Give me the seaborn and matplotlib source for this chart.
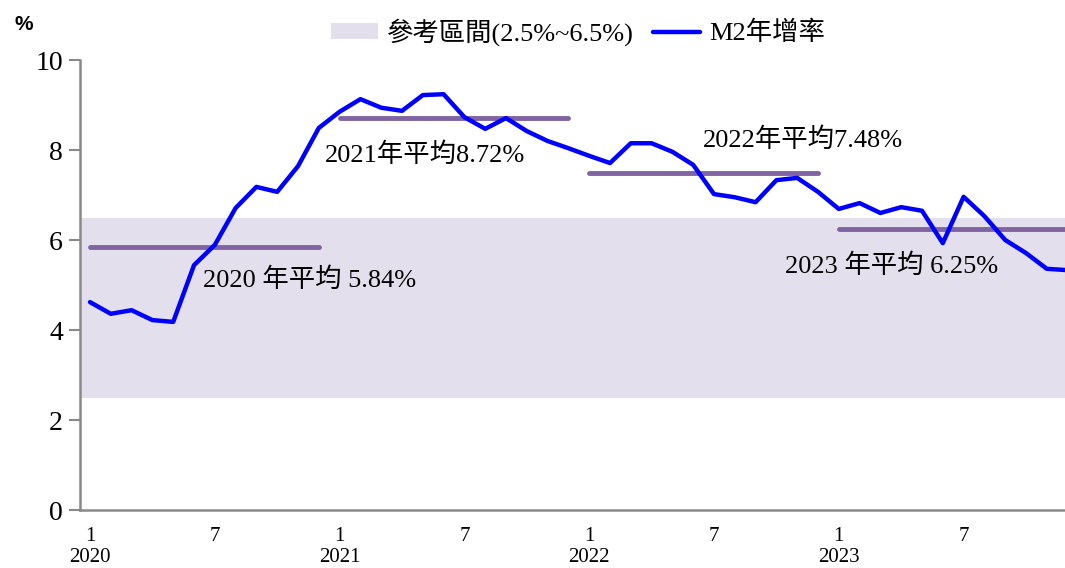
import numpy as np
import pandas as pd
import seaborn as sns
import matplotlib.pyplot as plt
from matplotlib.patches import Patch
from matplotlib.lines import Line2D

# Monthly M2 yoy growth, Jan 2020 - Dec 2023 (%)
years = [2020, 2021, 2022, 2023]
m2_2020 = [4.62, 4.36, 4.44, 4.22, 4.18, 5.44, 5.89, 6.71, 7.18, 7.07, 7.64, 8.49]
m2_2021 = [8.85, 9.13, 8.94, 8.87, 9.22, 9.24, 8.73, 8.47, 8.71, 8.42, 8.20, 8.04]
m2_2022 = [7.87, 7.71, 8.15, 8.15, 7.96, 7.67, 7.02, 6.95, 6.84, 7.33, 7.38, 7.07]
m2_2023 = [6.69, 6.82, 6.60, 6.73, 6.65, 5.93, 6.96, 6.53, 6.00, 5.71, 5.36, 5.33]
yearly_avg = [5.84, 8.72, 7.48, 6.25]
avg_labels = ["2020 年平均 5.84%", "2021年平均8.72%", "2022年平均7.48%", "2023 年平均 6.25%"]
band_low, band_high = 2.5, 6.5
band_label = "參考區間(2.5%~6.5%)"
line_label = "M2年增率"

m2 = m2_2020 + m2_2021 + m2_2022 + m2_2023
df = pd.DataFrame({"idx": np.arange(len(m2)), "m2": m2})

sns.set_theme(style="white")
plt.rcParams["font.family"] = ["Liberation Serif", "Noto Sans CJK TC", "DejaVu Sans"]
plt.rcParams["axes.unicode_minus"] = False
plt.rcParams["xtick.color"] = "black"
plt.rcParams["ytick.color"] = "black"
plt.rcParams["text.color"] = "black"

BLUE = "#0000FF"
PURPLE = "#8064A2"
BAND = "#E4DFEC"
GREY = "#898989"

fig = plt.figure(figsize=(10.65, 5.68), dpi=100)
ax = fig.add_axes([79.6 / 1065, 58 / 568, 998.4 / 1065, 450 / 568])

# reference band
ax.axhspan(band_low, band_high, color=BAND, lw=0, zorder=0)

# yearly averages
for k, avg in enumerate(yearly_avg):
    ax.hlines(avg, 12 * k, 12 * k + 11, color=PURPLE, lw=3.5, zorder=2,
              capstyle="round")

sns.lineplot(data=df, x="idx", y="m2", color=BLUE, lw=3.2, ax=ax,
             legend=False, zorder=3)

# average annotations
text_pos = [(5.43, 5.11), (11.3, 7.89), (29.47, 8.24), (33.4, 5.42)]
for (tx, ty), lab in zip(text_pos, avg_labels):
    ax.text(tx, ty, lab, fontsize=19, ha="left", va="center", color="black",
            zorder=4)

ax.set_xlim(-0.5, 47.5)
ax.set_ylim(0, 10)
ax.set_yticks([0, 2, 4, 6, 8, 10])
ax.set_yticklabels(["0", "2", "4", "6", "8", "10"], fontsize=20)

major = np.arange(0, 48, 6)
xlabels = []
for t in major:
    if t % 12 == 0:
        xlabels.append(f"1\n{years[t // 12]}")
    else:
        xlabels.append("7")
ax.set_xticks(major)
ax.set_xticklabels(xlabels, fontsize=15, linespacing=1.15)
ax.set_xticks(np.arange(-0.5, 48, 2), minor=True)
ax.tick_params(axis="x", which="major", length=0, pad=12)
ax.tick_params(axis="x", which="minor", length=6, width=1.5, color=GREY,
               direction="out")
ax.tick_params(axis="y", length=8, width=1.5, color=GREY, direction="out",
               pad=4, left=True, labelcolor="black")
ax.set_xlabel("")
ax.set_ylabel("")

sns.despine(ax=ax)
for side in ["left", "bottom"]:
    ax.spines[side].set_color(GREY)
    ax.spines[side].set_linewidth(1.8)

fig.text(24 / 1065, 1 - 24 / 568, "%", fontsize=15, fontweight="bold",
         family="Liberation Sans", ha="center", va="center")

handles = [Patch(facecolor=BAND, edgecolor="none", label=band_label),
           Line2D([], [], color=BLUE, lw=3.2, label=line_label)]
fig.legend(handles=handles, loc="center", bbox_to_anchor=(578 / 1065, 1 - 32 / 568),
           ncol=2, frameon=False, fontsize=19, handlelength=1.8,
           handleheight=0.55, handletextpad=0.35, columnspacing=0.7)

fig.savefig("out.png", dpi=100)
